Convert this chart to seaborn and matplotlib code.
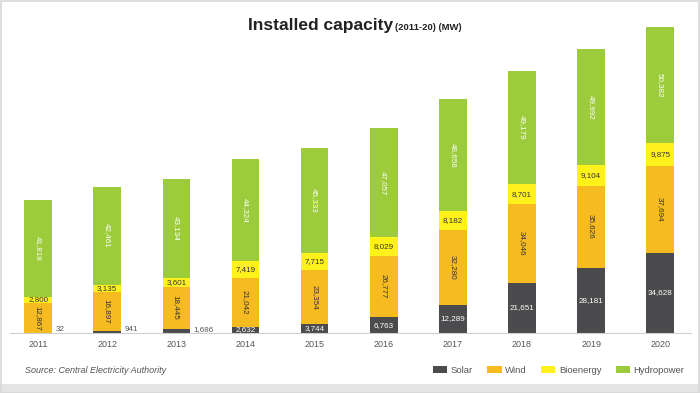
import numpy as np
import pandas as pd
import matplotlib
matplotlib.use("Agg")
import matplotlib.pyplot as plt
from matplotlib.patches import Patch, Rectangle
import seaborn as sns

years = ["2011", "2012", "2013", "2014", "2015", "2016", "2017", "2018", "2019", "2020"]
solar = [32, 941, 1686, 2632, 3744, 6763, 12289, 21651, 28181, 34628]
wind = [12867, 16897, 18445, 21042, 23354, 26777, 32280, 34046, 35626, 37694]
bioenergy = [2800, 3135, 3601, 7419, 7715, 8029, 8182, 8701, 9104, 9875]
hydropower = [41818, 42461, 43134, 44324, 45333, 47057, 48658, 49179, 49992, 50382]

series_names = ["Solar", "Wind", "Bioenergy", "Hydropower"]
colors = {"Solar": "#4b4b4d", "Wind": "#f6bb20", "Bioenergy": "#fff21c", "Hydropower": "#9ccb3b"}

sns.set_theme(style="white")
plt.rcParams["font.family"] = ["Liberation Sans Narrow", "Liberation Sans", "DejaVu Sans"]

df = pd.DataFrame({"year": years, "Solar": solar, "Wind": wind,
                   "Bioenergy": bioenergy, "Hydropower": hydropower})
cum = df[series_names].cumsum(axis=1)

fig = plt.figure(figsize=(7, 3.93), dpi=100)
fig.patch.set_facecolor("white")
ax = fig.add_axes([0.0149, 0.1527, 0.9728, 0.822])

# draw stacked bars as layered cumulative bars (top series first)
for name in reversed(series_names):
    sns.barplot(x=df["year"], y=cum[name], color=colors[name], width=0.4,
                saturation=1, ax=ax, edgecolor="none", linewidth=0)

ax.set_xlim(-0.4, 9.45)
ax.set_ylim(0, 140000)
ax.set_xlabel("")
ax.set_ylabel("")
ax.set_yticks([])
for s in ["top", "right", "left"]:
    ax.spines[s].set_visible(False)
ax.spines["bottom"].set_color("#cfcfcf")
ax.spines["bottom"].set_linewidth(0.8)
ax.tick_params(axis="x", which="major", length=0, pad=5, labelsize=6.5, labelcolor="#555555")
ax.set_xticks(np.arange(0.5, 9.5, 1), minor=True)
ax.tick_params(axis="x", which="minor", length=3, color="#cfcfcf", width=0.8)

fs = 5.8
for i in range(len(years)):
    base_w = solar[i]
    base_b = solar[i] + wind[i]
    base_h = base_b + bioenergy[i]
    # solar
    if i < 3:
        ax.text(i + 0.25, 0, f"{solar[i]:,}", ha="left", va="bottom", fontsize=fs, color="#555555")
    else:
        ax.text(i, solar[i] / 2, f"{solar[i]:,}", ha="center", va="center", fontsize=fs,
                color="white")
    # wind
    ax.text(i, base_w + wind[i] / 2, f"{wind[i]:,}", ha="center", va="center", fontsize=fs,
            color="#333333", rotation=270)
    # bioenergy
    ax.text(i, base_b + bioenergy[i] / 2, f"{bioenergy[i]:,}", ha="center", va="center",
            fontsize=fs, color="#333333")
    # hydro
    ax.text(i, base_h + hydropower[i] / 2, f"{hydropower[i]:,}", ha="center", va="center",
            fontsize=fs, color="white", rotation=270)

# title
fig.text(0.562, 0.934, "Installed capacity", ha="right", va="center", fontsize=12.5,
         fontweight="bold", color="#222222")
fig.text(0.565, 0.929, "(2011-20) (MW)", ha="left", va="center", fontsize=6.8,
         fontweight="bold", color="#222222")

# source
fig.text(0.036, 0.058, "Source: Central Electricity Authority", ha="left", va="center",
         fontsize=6.5, style="italic", color="#555555")

# legend
handles = [Patch(facecolor=colors[n], edgecolor="none", label=n) for n in series_names]
fig.legend(handles=handles, loc="center right", bbox_to_anchor=(0.99, 0.058), ncol=4,
           frameon=False, fontsize=6.8, handlelength=1.5, handleheight=0.8,
           handletextpad=0.4, columnspacing=1.5, labelcolor="#555555")

# frame
fig.patches.append(Rectangle((0, 0), 1, 0.022, transform=fig.transFigure,
                             facecolor="#e4e4e4", edgecolor="none", zorder=-1))
fig.patches.append(Rectangle((0.001, 0.0), 0.998, 0.998, transform=fig.transFigure,
                             facecolor="none", edgecolor="#d8d8d8", linewidth=1.2))

fig.savefig("out.png", dpi=100)
